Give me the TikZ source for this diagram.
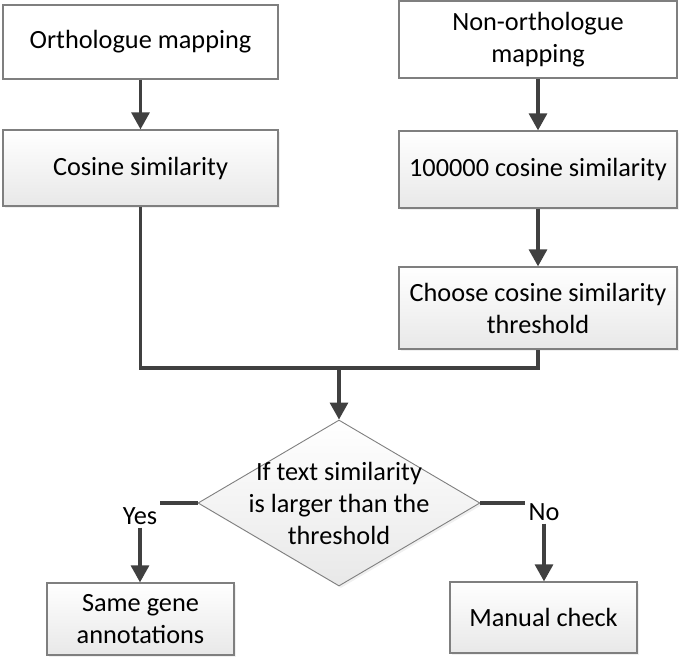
\documentclass[tikz,border=0pt]{standalone}
\usepackage{fontspec}
\setmainfont{Carlito}
\usetikzlibrary{arrows.meta,shapes.geometric,shadows}
\definecolor{linegray}{HTML}{404040}
\definecolor{edgegray}{HTML}{7F7F7F}
\begin{document}
\begin{tikzpicture}[x=1pt,y=-1pt,
        font=\fontsize{26.3}{32}\selectfont,
        box/.style={draw=edgegray, line width=1.3pt, fill=white, align=center, inner sep=0pt},
        shade box/.style={box, top color=white, bottom color=gray!18,
            drop shadow={shadow xshift=2pt, shadow yshift=-2pt, opacity=0.12}},
        decision/.style={diamond, draw=edgegray, line width=0.9pt, top color=white, bottom color=gray!18,
            inner sep=0pt, minimum width=282pt, minimum height=166pt,
            drop shadow={shadow xshift=2pt, shadow yshift=-2pt, opacity=0.12}},
        link/.style={draw=linegray, line width=3.2pt},
        arr/.style={link, -{Triangle[length=17pt,width=18pt]}},
        tag/.style={inner sep=3pt}]
    \useasboundingbox (0,0) rectangle (685,659);
    \node[box, minimum width=275pt, minimum height=74pt] (orth) at (140.5,42) {Orthologue mapping};
    \node[box, minimum width=278pt, minimum height=77pt] (nonorth) at (538,39.5) {Non-orthologue\\mapping};
    \node[shade box, minimum width=275pt, minimum height=76pt] (cos) at (140.5,168) {Cosine similarity};
    \node[shade box, minimum width=278pt, minimum height=77pt] (cosall) at (538,169.5) {100000 cosine similarity};
    \node[shade box, minimum width=278pt, minimum height=82pt] (thr) at (538,308) {Choose cosine similarity\\threshold};
    \node[decision] (dec) at (339,503) {};
    \node[align=center] (dectext) at (dec.center) {If text similarity\\is larger than the\\threshold};
    \node[tag] (yes) at (140,516) {Yes};
    \node[tag] (no) at (544,512) {No};
    \node[shade box, minimum width=187pt, minimum height=72pt] (same) at (140.5,619) {Same gene\\annotations};
    \node[shade box, minimum width=187pt, minimum height=71pt] (manual) at (543.5,617.5) {Manual check};
    \coordinate (join) at (339,368);
    \draw[arr] (orth) -- (cos);
    \draw[arr] (nonorth) -- (cosall);
    \draw[arr] (cosall) -- (thr);
    \draw[link] (cos.south) |- (join) -| (thr.south);
    \draw[arr] (join) -- (dec.north);
    \draw[link] (dec.west) -- (dec.west -| yes.east);
    \draw[link] (dec.east) -- (dec.east -| no.west);
    \draw[arr] (yes.south) -- (yes.south |- same.north);
    \draw[arr] (no.south) -- (no.south |- manual.north);
\end{tikzpicture}
\end{document}
